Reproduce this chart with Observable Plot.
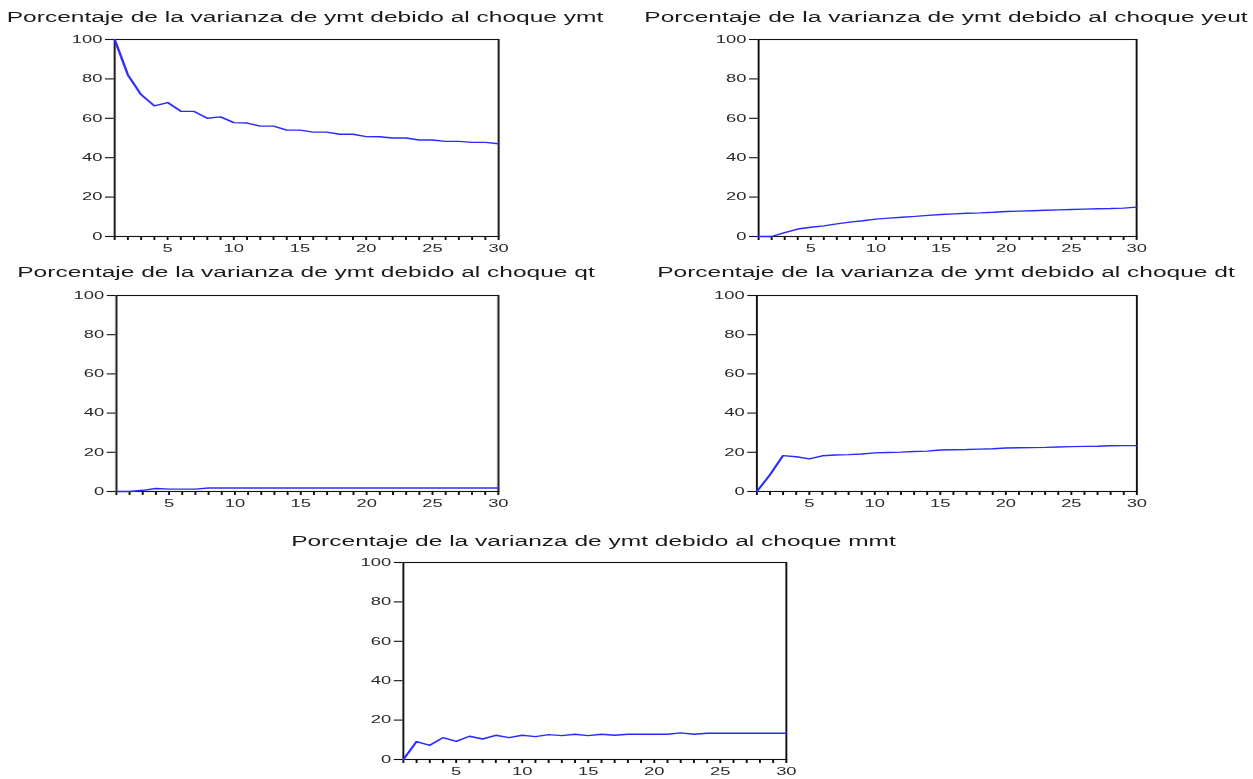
<!DOCTYPE html>
<html><head><meta charset="utf-8">
<script src="https://cdn.jsdelivr.net/npm/d3@7"></script>
<script src="https://cdn.jsdelivr.net/npm/@observablehq/plot@0.6"></script>
<style>
html,body{margin:0;padding:0;background:#fff;overflow:hidden;width:1253px;height:779px;}
#stage{position:absolute;left:0;top:0;width:716px;height:779px;transform:scaleX(1.75);transform-origin:0 0;font-family:"Liberation Sans",Arial,sans-serif;}
.title{position:absolute;width:400px;text-align:center;font-size:14px;line-height:16px;color:#1a1a1a;white-space:nowrap;}
.panel{position:absolute;}
</style></head><body><div id="stage"></div>
<script>
// ---- data ----
const periods = d3.range(1, 31);
const titles = [
  "Porcentaje de la varianza de ymt debido al choque ymt",
  "Porcentaje de la varianza de ymt debido al choque yeut",
  "Porcentaje de la varianza de ymt debido al choque qt",
  "Porcentaje de la varianza de ymt debido al choque dt",
  "Porcentaje de la varianza de ymt debido al choque mmt"
];
const shockYmt  = [100, 82, 72, 66.3, 68, 63.6, 63.5, 60, 60.7, 57.8, 57.6, 56, 56, 54, 54, 53, 53, 51.9, 51.9, 50.7, 50.6, 50, 50, 49, 49, 48.3, 48.3, 47.8, 47.8, 47.1];
const shockYeut = [0, 0, 2, 3.8, 4.7, 5.4, 6.4, 7.3, 8, 8.8, 9.3, 9.8, 10.2, 10.7, 11.2, 11.5, 11.8, 12, 12.3, 12.7, 12.9, 13.1, 13.3, 13.5, 13.7, 13.9, 14.1, 14.2, 14.4, 14.9];
const shockQt   = [0, 0, 0.6, 1.5, 1.2, 1.2, 1.2, 1.8, 1.8, 1.8, 1.8, 1.8, 1.8, 1.8, 1.8, 1.8, 1.8, 1.8, 1.8, 1.8, 1.8, 1.8, 1.8, 1.8, 1.8, 1.8, 1.8, 1.8, 1.8, 1.8];
const shockDt   = [0, 8.5, 18.3, 17.7, 16.6, 18.2, 18.6, 18.8, 19.1, 19.7, 19.9, 20.1, 20.4, 20.6, 21.2, 21.3, 21.4, 21.6, 21.8, 22.2, 22.3, 22.4, 22.5, 22.7, 22.9, 23, 23.1, 23.3, 23.4, 23.4];
const shockMmt  = [0, 9.1, 7.2, 11.1, 9.2, 11.8, 10.4, 12.3, 11.1, 12.3, 11.6, 12.6, 12.1, 12.8, 12.1, 12.8, 12.3, 12.8, 12.8, 12.8, 12.8, 13.5, 12.8, 13.3, 13.3, 13.3, 13.3, 13.3, 13.3, 13.3];
const seriesList = [shockYmt, shockYeut, shockQt, shockDt, shockMmt];
const yTicks = [0, 20, 40, 60, 80, 100];

// ---- layout (reference pixel coords: frame left, top, right, bottom; title center y) ----
const S = 1.75;
const layout = [
  {l: 113, t: 39,  r: 497,  b: 236, ty: 17},
  {l: 757, t: 39,  r: 1135, b: 236, ty: 17},
  {l: 115, t: 295, r: 497,  b: 491, ty: 272},
  {l: 756, t: 295, r: 1136, b: 491, ty: 272},
  {l: 402, t: 562, r: 785,  b: 759, ty: 541}
];

const stage = document.getElementById("stage");
const mL = 40, mT = 10, mR = 10, mB = 25;

layout.forEach((L, i) => {
  const fl = L.l / S, fr = L.r / S;
  const fw = fr - fl, fh = L.b - L.t;
  const title = document.createElement("div");
  title.className = "title";
  title.textContent = titles[i];
  title.style.left = ((fl + fr) / 2 - 200) + "px";
  title.style.top = (L.ty - 8) + "px";
  stage.appendChild(title);

  const data = periods.map((p, k) => ({p, v: seriesList[i][k]}));
  const chart = Plot.plot({
    width: fw + mL + mR,
    height: fh + mT + mB,
    marginLeft: mL, marginTop: mT, marginRight: mR, marginBottom: mB,
    x: {domain: [1, 30], label: null},
    y: {domain: [0, 100], label: null},
    style: {fontSize: "10.5px", fontFamily: "'Liberation Sans', Arial, sans-serif", color: "#2a2a2a", background: "transparent", overflow: "visible"},
    marks: [
      Plot.axisY({ticks: yTicks, tickSize: 5, tickPadding: 2, label: null, stroke: "#111", strokeWidth: 1.1}),
      Plot.axisX({ticks: periods, tickSize: 4, tickPadding: 4, label: null, stroke: "#111", strokeWidth: 1.1, tickFormat: d => d % 5 === 0 ? String(d) : ""}),
      Plot.frame({stroke: "#111", strokeWidth: 1.1}),
      Plot.line(data, {x: "p", y: "v", stroke: "#2b2bff", strokeWidth: 1.4})
    ]
  });
  const div = document.createElement("div");
  div.className = "panel";
  div.style.left = (fl - mL) + "px";
  div.style.top = (L.t - mT) + "px";
  div.appendChild(chart);
  stage.appendChild(div);
});
</script>
</body></html>
